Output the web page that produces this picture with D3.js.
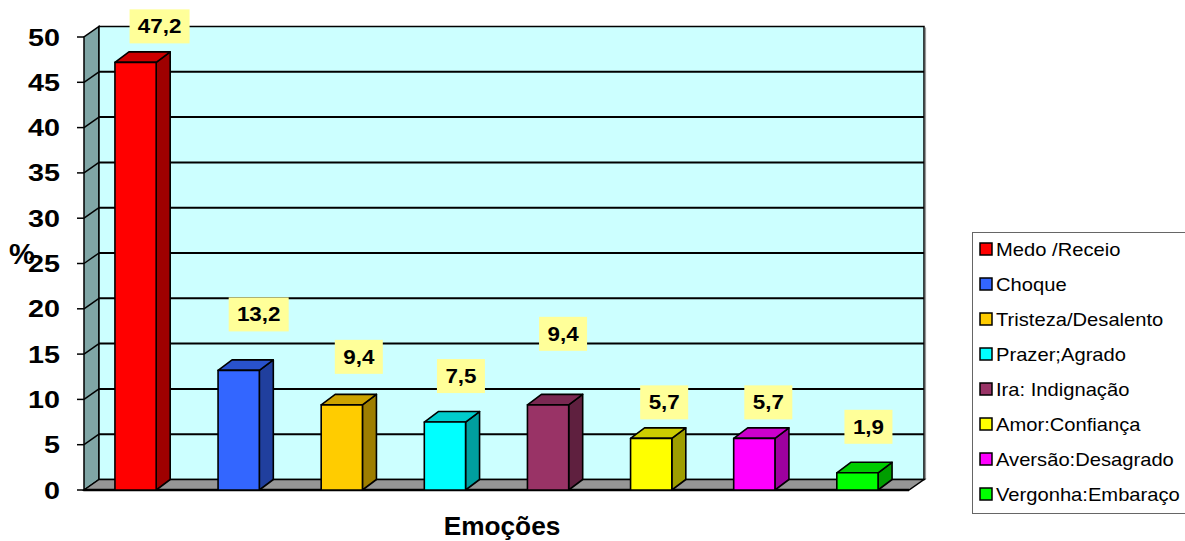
<!DOCTYPE html>
<html>
<head>
<meta charset="utf-8">
<script src="https://cdn.jsdelivr.net/npm/d3@7"></script>
<style>
  html, body { margin: 0; padding: 0; background: #ffffff; }
  svg { display: block; font-family: Arial, "Liberation Sans", sans-serif; }
</style>
</head>
<body>
<svg id="chart" width="1185" height="541"></svg>
<script>
// Emotions reported (%)
const categories = ["Medo /Receio", "Choque", "Tristeza/Desalento", "Prazer;Agrado",
                    "Ira: Indignação", "Amor:Confiança", "Aversão:Desagrado", "Vergonha:Embaraço"];
const values = [47.2, 13.2, 9.4, 7.5, 9.4, 5.7, 5.7, 1.9];
const colors = ["#FF0000", "#3366FF", "#FFCC00", "#00FFFF", "#993366", "#FFFF00", "#FF00FF", "#00FF00"];
const yTicks = [0, 5, 10, 15, 20, 25, 30, 35, 40, 45, 50];
const valueLabels = ["47,2", "13,2", "9,4", "7,5", "9,4", "5,7", "5,7", "1,9"];

// label placement nudges (px), relative to the top of each bar's front face
const labelShiftX = [24, 20, 17, 16, 15, 13, 14, 11];
const labelShiftY = [-36, -56, -48, -46, -71, -36, -36, -46];

const svg = d3.select("#chart");

// 3D frame geometry
const frontLeft = 84, frontRight = 909;
const depthX = 15, depthY = -10.5;
const x = d3.scaleBand().domain(categories).range([frontLeft, frontRight]).paddingInner(0.6).paddingOuter(0.3);
const y = d3.scaleLinear().domain([0, 50]).range([490, 37]);
const y0 = y(0), yTop = y(50);

const wallStroke = "#000";

// side wall (left)
svg.append("polygon")
  .attr("points", [[frontLeft, y0], [frontLeft, yTop], [frontLeft + depthX, yTop + depthY], [frontLeft + depthX, y0 + depthY]].join(" "))
  .attr("fill", "#80A6A6").attr("stroke", wallStroke).attr("stroke-width", 1.5);

// back wall
svg.append("rect")
  .attr("x", frontLeft + depthX).attr("y", yTop + depthY)
  .attr("width", frontRight - frontLeft).attr("height", y0 - yTop)
  .attr("fill", "#CCFFFF").attr("stroke", wallStroke).attr("stroke-width", 1.5);
// shadow along right edge of the back wall
svg.append("line")
  .attr("x1", frontRight + depthX + 1.5).attr("x2", frontRight + depthX + 1.5)
  .attr("y1", yTop + depthY + 1).attr("y2", y0 + depthY)
  .attr("stroke", "#9a9a9a").attr("stroke-width", 1.2);

// gridlines across back wall and side wall
const grid = svg.append("g");
yTicks.filter(t => t > 0 && t < 50).forEach(t => {
  const yy = y(t);
  grid.append("line")
    .attr("x1", frontLeft + depthX).attr("x2", frontRight + depthX)
    .attr("y1", yy + depthY).attr("y2", yy + depthY)
    .attr("stroke", "#000").attr("stroke-width", 2);
  grid.append("line")
    .attr("x1", frontLeft).attr("x2", frontLeft + depthX)
    .attr("y1", yy).attr("y2", yy + depthY)
    .attr("stroke", "#000").attr("stroke-width", 1.5);
});

// floor
svg.append("polygon")
  .attr("points", [[frontLeft, y0], [frontLeft + depthX, y0 + depthY], [frontRight + depthX, y0 + depthY], [frontRight, y0]].join(" "))
  .attr("fill", "#969696").attr("stroke", "#000").attr("stroke-width", 1.5);
svg.append("line")
  .attr("x1", frontLeft).attr("x2", frontRight).attr("y1", y0).attr("y2", y0)
  .attr("stroke", "#000").attr("stroke-width", 2.5);

// y axis ticks and labels
const yAxis = svg.append("g");
yTicks.forEach(t => {
  yAxis.append("line")
    .attr("x1", frontLeft - 7).attr("x2", frontLeft)
    .attr("y1", y(t)).attr("y2", y(t))
    .attr("stroke", "#000").attr("stroke-width", 1.5);
  yAxis.append("text")
    .attr("transform", `translate(60,${y(t) + 8.5}) scale(1.25,1)`)
    .attr("text-anchor", "end")
    .attr("font-size", 23).attr("font-weight", "bold").attr("fill", "#000")
    .text(t);
});

// bars as 3D boxes
const bars = svg.append("g");
categories.forEach((c, i) => {
  const x0 = x(c), w = x.bandwidth(), x1 = x0 + w;
  const top = y(values[i]);
  const base = d3.color(colors[i]);
  const topFill = d3.rgb(base.r * 0.8, base.g * 0.8, base.b * 0.8);
  const sideFill = d3.rgb(base.r * 0.62, base.g * 0.62, base.b * 0.62);
  const g = bars.append("g").attr("stroke", "#000").attr("stroke-width", 1.6).attr("stroke-linejoin", "round");
  g.append("polygon")
    .attr("points", [[x1, top], [x1 + depthX - 1, top + depthY], [x1 + depthX - 1, y0 + depthY], [x1, y0]].join(" "))
    .attr("fill", sideFill);
  g.append("polygon")
    .attr("points", [[x0, top], [x0 + depthX - 1, top + depthY], [x1 + depthX - 1, top + depthY], [x1, top]].join(" "))
    .attr("fill", topFill);
  g.append("rect")
    .attr("x", x0).attr("y", top).attr("width", w).attr("height", y0 - top)
    .attr("fill", colors[i]);
});

// value labels
const labels = svg.append("g");
categories.forEach((c, i) => {
  const cx = x(c) + x.bandwidth() / 2 + labelShiftX[i];
  const cy = y(values[i]) + labelShiftY[i];
  const bw = valueLabels[i].length > 3 ? 60 : 48;
  labels.append("rect")
    .attr("x", cx - bw / 2).attr("y", cy - 17).attr("width", bw).attr("height", 34)
    .attr("fill", "#FFFF99");
  labels.append("text")
    .attr("transform", `translate(${cx},${cy + 7}) scale(1.12,1)`)
    .attr("text-anchor", "middle")
    .attr("font-size", 20).attr("font-weight", "bold").attr("fill", "#000")
    .text(valueLabels[i]);
});

// axis titles
svg.append("text")
  .attr("transform", "translate(502,535) scale(1.05,1)")
  .attr("text-anchor", "middle")
  .attr("font-size", 25).attr("font-weight", "bold").attr("fill", "#000")
  .text("Emoções");
svg.append("text")
  .attr("x", 9).attr("y", 264)
  .attr("font-size", 29).attr("font-weight", "bold").attr("fill", "#000")
  .text("%");

// legend
const legend = svg.append("g");
legend.append("rect")
  .attr("x", 972.5).attr("y", 232.5).attr("width", 230).attr("height", 281)
  .attr("fill", "#fff").attr("stroke", "#666").attr("stroke-width", 1);
categories.forEach((c, i) => {
  const cy = 249 + i * 35;
  legend.append("rect")
    .attr("x", 980).attr("y", cy - 6).attr("width", 12).attr("height", 12)
    .attr("fill", colors[i]).attr("stroke", "#000").attr("stroke-width", 1.5);
  legend.append("text")
    .attr("transform", `translate(996,${cy + 7}) scale(1.12,1)`)
    .attr("font-size", 18).attr("fill", "#000")
    .text(c);
});
</script>
</body>
</html>
